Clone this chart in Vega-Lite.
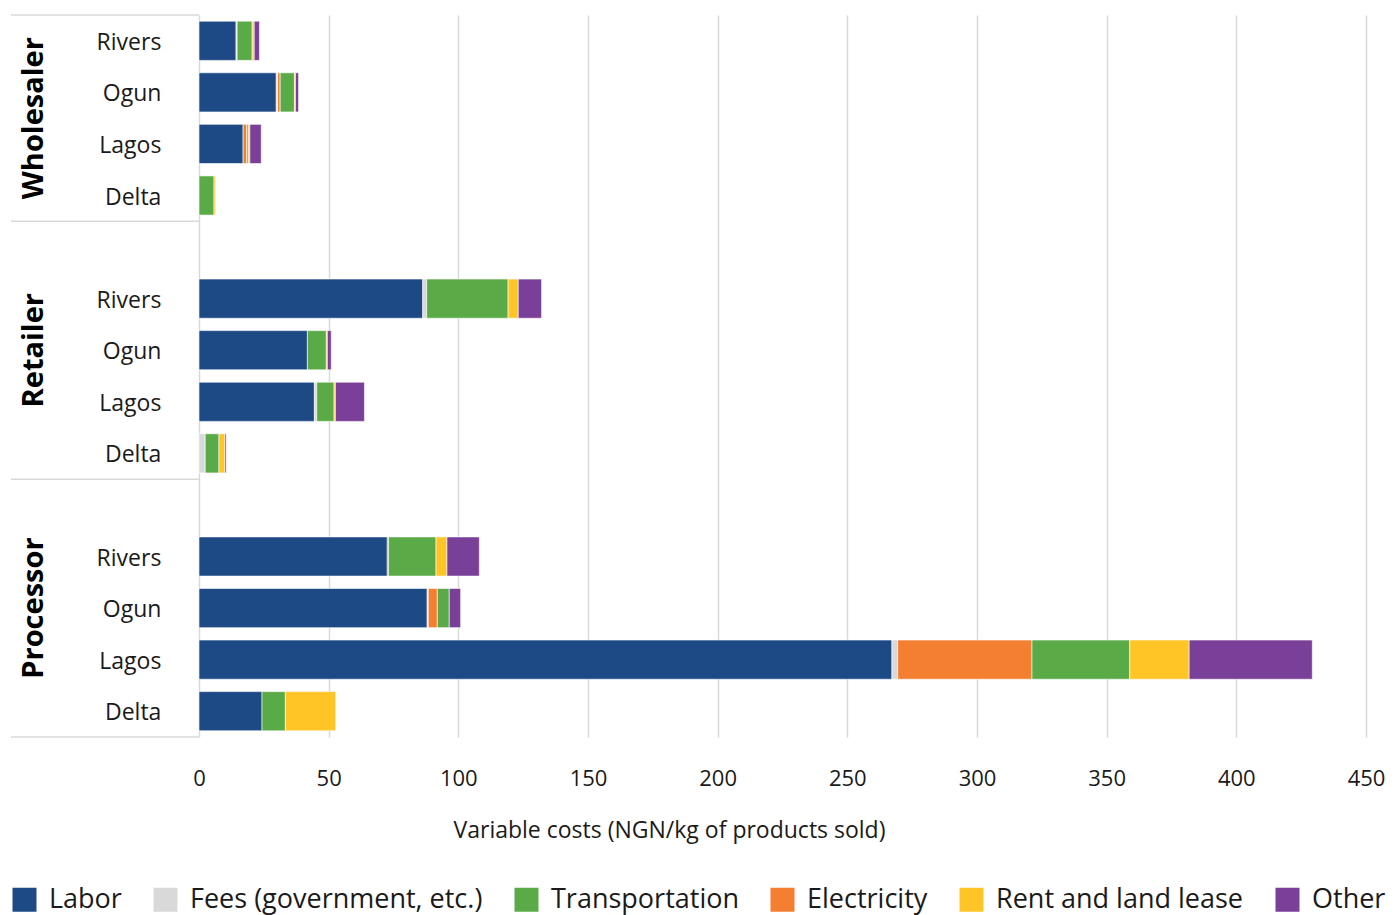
{
  "$schema": "https://vega.github.io/schema/vega-lite/v6.json",
  "padding": {"left": 10, "top": 14, "right": 5, "bottom": 5},
  "bounds": "flush",
  "config": {"view": {"stroke": null}, "font": "Open Sans", "concat": {"spacing": 0}},
  "datasets": {
    "costs": [
      {"row": "Wholesaler|Rivers", "cost": "Labor", "value": 14.3},
      {"row": "Wholesaler|Rivers", "cost": "Fees (government, etc.)", "value": 0.4},
      {"row": "Wholesaler|Rivers", "cost": "Transportation", "value": 5.8},
      {"row": "Wholesaler|Rivers", "cost": "Rent and land lease", "value": 0.8},
      {"row": "Wholesaler|Rivers", "cost": "Other", "value": 2.0},
      {"row": "Wholesaler|Ogun", "cost": "Labor", "value": 29.8},
      {"row": "Wholesaler|Ogun", "cost": "Fees (government, etc.)", "value": 0.5},
      {"row": "Wholesaler|Ogun", "cost": "Electricity", "value": 1.0},
      {"row": "Wholesaler|Ogun", "cost": "Transportation", "value": 5.5},
      {"row": "Wholesaler|Ogun", "cost": "Rent and land lease", "value": 0.4},
      {"row": "Wholesaler|Ogun", "cost": "Other", "value": 1.2},
      {"row": "Wholesaler|Lagos", "cost": "Labor", "value": 17.0},
      {"row": "Wholesaler|Lagos", "cost": "Electricity", "value": 1.4},
      {"row": "Wholesaler|Lagos", "cost": "Transportation", "value": 0.6},
      {"row": "Wholesaler|Lagos", "cost": "Rent and land lease", "value": 0.6},
      {"row": "Wholesaler|Lagos", "cost": "Other", "value": 4.4},
      {"row": "Wholesaler|Delta", "cost": "Transportation", "value": 5.8},
      {"row": "Wholesaler|Delta", "cost": "Rent and land lease", "value": 0.6},
      {"row": "Retailer|Rivers", "cost": "Labor", "value": 86.3},
      {"row": "Retailer|Rivers", "cost": "Fees (government, etc.)", "value": 1.5},
      {"row": "Retailer|Rivers", "cost": "Transportation", "value": 31.4},
      {"row": "Retailer|Rivers", "cost": "Rent and land lease", "value": 3.9},
      {"row": "Retailer|Rivers", "cost": "Other", "value": 9.0},
      {"row": "Retailer|Ogun", "cost": "Labor", "value": 41.8},
      {"row": "Retailer|Ogun", "cost": "Transportation", "value": 7.3},
      {"row": "Retailer|Ogun", "cost": "Rent and land lease", "value": 0.4},
      {"row": "Retailer|Ogun", "cost": "Other", "value": 1.5},
      {"row": "Retailer|Lagos", "cost": "Labor", "value": 44.5},
      {"row": "Retailer|Lagos", "cost": "Fees (government, etc.)", "value": 0.9},
      {"row": "Retailer|Lagos", "cost": "Transportation", "value": 6.7},
      {"row": "Retailer|Lagos", "cost": "Rent and land lease", "value": 0.5},
      {"row": "Retailer|Lagos", "cost": "Other", "value": 11.2},
      {"row": "Retailer|Delta", "cost": "Fees (government, etc.)", "value": 2.4},
      {"row": "Retailer|Delta", "cost": "Transportation", "value": 5.3},
      {"row": "Retailer|Delta", "cost": "Rent and land lease", "value": 2.3},
      {"row": "Retailer|Delta", "cost": "Other", "value": 0.5},
      {"row": "Processor|Rivers", "cost": "Labor", "value": 72.6},
      {"row": "Processor|Rivers", "cost": "Electricity", "value": 0.5},
      {"row": "Processor|Rivers", "cost": "Transportation", "value": 18.3},
      {"row": "Processor|Rivers", "cost": "Rent and land lease", "value": 4.2},
      {"row": "Processor|Rivers", "cost": "Other", "value": 12.5},
      {"row": "Processor|Ogun", "cost": "Labor", "value": 88.0},
      {"row": "Processor|Ogun", "cost": "Fees (government, etc.)", "value": 0.4},
      {"row": "Processor|Ogun", "cost": "Electricity", "value": 3.5},
      {"row": "Processor|Ogun", "cost": "Transportation", "value": 4.6},
      {"row": "Processor|Ogun", "cost": "Other", "value": 4.4},
      {"row": "Processor|Lagos", "cost": "Labor", "value": 267.2},
      {"row": "Processor|Lagos", "cost": "Fees (government, etc.)", "value": 2.2},
      {"row": "Processor|Lagos", "cost": "Electricity", "value": 51.8},
      {"row": "Processor|Lagos", "cost": "Transportation", "value": 37.7},
      {"row": "Processor|Lagos", "cost": "Rent and land lease", "value": 22.9},
      {"row": "Processor|Lagos", "cost": "Other", "value": 47.5},
      {"row": "Processor|Delta", "cost": "Labor", "value": 24.3},
      {"row": "Processor|Delta", "cost": "Transportation", "value": 9.0},
      {"row": "Processor|Delta", "cost": "Rent and land lease", "value": 19.4}
    ],
    "states": [
      {"row": "Wholesaler|Rivers", "state": "Rivers"},
      {"row": "Wholesaler|Ogun", "state": "Ogun"},
      {"row": "Wholesaler|Lagos", "state": "Lagos"},
      {"row": "Wholesaler|Delta", "state": "Delta"},
      {"row": "Retailer|Rivers", "state": "Rivers"},
      {"row": "Retailer|Ogun", "state": "Ogun"},
      {"row": "Retailer|Lagos", "state": "Lagos"},
      {"row": "Retailer|Delta", "state": "Delta"},
      {"row": "Processor|Rivers", "state": "Rivers"},
      {"row": "Processor|Ogun", "state": "Ogun"},
      {"row": "Processor|Lagos", "state": "Lagos"},
      {"row": "Processor|Delta", "state": "Delta"}
    ],
    "roles": [
      {"row": "Retailer|Ogun", "role": "Retailer"},
      {"row": "Processor|Ogun", "role": "Processor"}
    ],
    "roleTop": [
      {"row": "Wholesaler|Lagos", "role": "Wholesaler"}
    ],
    "separators": [
      {"row": "Wholesaler|Rivers"},
      {"row": "gap1"},
      {"row": "gap2"}
    ],
    "bottomSeparator": [
      {"row": "Processor|Delta"}
    ]
  },
  "hconcat": [
    {
      "width": 188,
      "height": 722,
      "layer": [
        {
          "data": {"name": "separators"},
          "mark": {"type": "rule", "color": "#d9d9d9", "strokeWidth": 1.5},
          "encoding": {
            "y": {"field": "row", "type": "nominal", "bandPosition": 0,
                  "scale": {"domain": ["Wholesaler|Rivers","Wholesaler|Ogun","Wholesaler|Lagos","Wholesaler|Delta","gap1","Retailer|Rivers","Retailer|Ogun","Retailer|Lagos","Retailer|Delta","gap2","Processor|Rivers","Processor|Ogun","Processor|Lagos","Processor|Delta"], "type": "band", "paddingInner": 0, "paddingOuter": 0},
                  "axis": null}
          }
        },
        {
          "data": {"name": "bottomSeparator"},
          "mark": {"type": "rule", "color": "#d9d9d9", "strokeWidth": 1.5},
          "encoding": {
            "y": {"field": "row", "type": "nominal", "bandPosition": 1, "axis": null}
          }
        },
        {
          "data": {"name": "states"},
          "mark": {"type": "text", "align": "right", "baseline": "middle", "dy": 2, "fontSize": 23, "color": "#1a1a1a", "font": "Open Sans"},
          "encoding": {
            "y": {"field": "row", "type": "nominal", "axis": null},
            "x": {"datum": 0.8, "type": "quantitative", "scale": {"domain": [0, 1]}, "axis": null},
            "text": {"field": "state"}
          }
        },
        {
          "data": {"name": "roles"},
          "mark": {"type": "text", "align": "center", "baseline": "middle", "angle": 270, "fontSize": 29, "fontWeight": "bold", "color": "#000000", "font": "Open Sans"},
          "encoding": {
            "y": {"field": "row", "type": "nominal", "axis": null},
            "x": {"datum": 0.122, "type": "quantitative", "axis": null},
            "text": {"field": "role"}
          }
        },
        {
          "data": {"name": "roleTop"},
          "mark": {"type": "text", "align": "center", "baseline": "middle", "angle": 270, "fontSize": 29, "fontWeight": "bold", "color": "#000000", "font": "Open Sans"},
          "encoding": {
            "y": {"field": "row", "type": "nominal", "bandPosition": 0, "axis": null},
            "x": {"datum": 0.122, "type": "quantitative", "axis": null},
            "text": {"field": "role"}
          }
        }
      ]
    },
    {
      "width": 1167,
      "height": 722,
      "data": {"name": "costs"},
      "transform": [
        {"calculate": "indexof(['Labor','Fees (government, etc.)','Electricity','Transportation','Rent and land lease','Other'], datum.cost)", "as": "stackOrder"}
      ],
      "mark": {"type": "bar", "stroke": "#ffffff", "strokeWidth": 1, "strokeOpacity": 0.6},
      "encoding": {
        "y": {"field": "row", "type": "nominal", "axis": null,
              "scale": {"domain": ["Wholesaler|Rivers","Wholesaler|Ogun","Wholesaler|Lagos","Wholesaler|Delta","gap1","Retailer|Rivers","Retailer|Ogun","Retailer|Lagos","Retailer|Delta","gap2","Processor|Rivers","Processor|Ogun","Processor|Lagos","Processor|Delta"], "paddingInner": 0.24, "paddingOuter": 0.12}},
        "x": {"field": "value", "type": "quantitative", "stack": "zero",
              "scale": {"domain": [0, 450], "nice": false},
              "axis": {"values": [0,50,100,150,200,250,300,350,400,450], "grid": true, "gridColor": "#d9d9d9", "gridWidth": 1.5, "domain": false, "ticks": false,
                       "labelFontSize": 22, "labelColor": "#1a1a1a", "labelPadding": 31, "labelFont": "Open Sans", "labelFlush": false,
                       "title": "Variable costs (NGN/kg of products sold)", "titleFontSize": 23, "titleFontWeight": "normal", "titleColor": "#1a1a1a", "titlePadding": 30, "titleFont": "Open Sans", "titleX": 470}},
        "color": {"field": "cost", "type": "nominal",
                  "scale": {"domain": ["Labor","Fees (government, etc.)","Transportation","Electricity","Rent and land lease","Other"],
                            "range": ["#1d4a85","#d9d9d9","#5aab47","#f47f31","#ffc425","#7a3f98"]},
                  "legend": {"orient": "bottom", "direction": "horizontal", "title": null, "symbolType": "square", "symbolSize": 576, "symbolStrokeWidth": 0,
                             "labelFontSize": 27, "labelFont": "Open Sans", "labelColor": "#1a1a1a", "columnPadding": 30, "labelOffset": 11, "offset": 44, "labelLimit": 400}},
        "order": {"field": "stackOrder", "type": "quantitative", "sort": "ascending"}
      }
    }
  ],
  "resolve": {"scale": {"y": "independent", "x": "independent"}}
}
